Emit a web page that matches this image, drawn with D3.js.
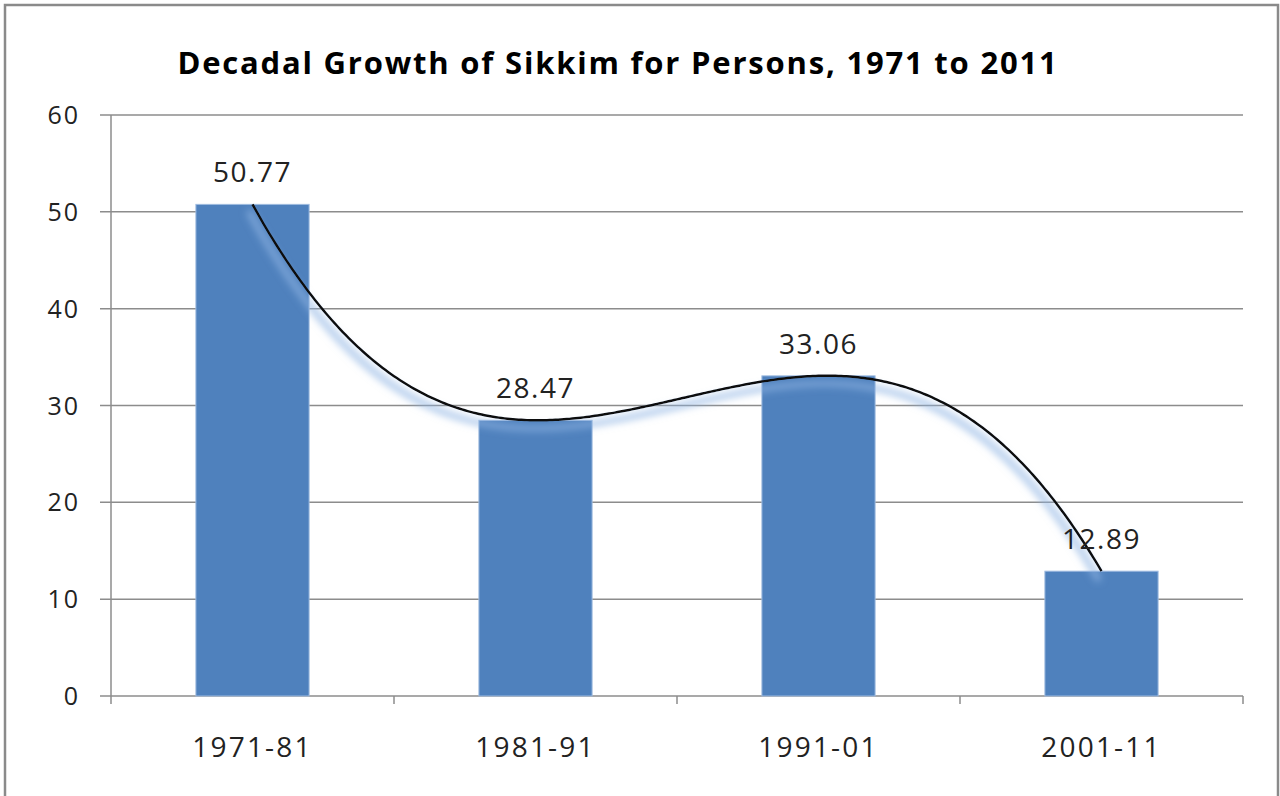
<!DOCTYPE html>
<html>
<head>
<meta charset="utf-8">
<script src="https://cdn.jsdelivr.net/npm/d3@7"></script>
<style>
  body { margin: 0; background: #fff; }
  text { font-family: "Open Sans", sans-serif; fill: #222; }
</style>
</head>
<body>
<div class="chart"></div>
<script>
var width = 1280,
    height = 796;

// data
let periods = ["1971-81", "1981-91", "1991-01", "2001-11"];
let growth = [50.77, 28.47, 33.06, 12.89];
let yTicks = [0, 10, 20, 30, 40, 50, 60];

let svg = d3.select(".chart")
    .append("svg")
    .attr("width", width)
    .attr("height", height);

// frame
svg.append("rect")
    .attr("x", 5)
    .attr("y", 5)
    .attr("width", 1273)
    .attr("height", 800)
    .attr("fill", "#fff")
    .attr("stroke", "#8a8a8a")
    .attr("stroke-width", 2.5);

let plotLeft = 111, plotRight = 1243, plotTop = 115, plotBottom = 696;

let x = d3.scaleBand()
    .domain(periods)
    .range([plotLeft, plotRight])
    .paddingInner(0.6)
    .paddingOuter(0.3);

let y = d3.scaleLinear()
    .domain([0, 60])
    .range([plotBottom, plotTop]);

// gridlines
svg.append("g")
    .selectAll("line")
    .data(yTicks)
    .join("line")
    .attr("x1", plotLeft - 11)
    .attr("x2", plotRight)
    .attr("y1", d => y(d))
    .attr("y2", d => y(d))
    .attr("stroke", "#8c8c8c")
    .attr("stroke-width", 1.5);

// y axis line
svg.append("line")
    .attr("x1", plotLeft).attr("x2", plotLeft)
    .attr("y1", plotTop).attr("y2", plotBottom + 8)
    .attr("stroke", "#8c8c8c")
    .attr("stroke-width", 1.5);

// x ticks at category boundaries
let bounds = d3.range(periods.length + 1).map(i => plotLeft + i * (plotRight - plotLeft) / periods.length);
svg.append("g")
    .selectAll("line")
    .data(bounds.slice(1))
    .join("line")
    .attr("x1", d => d).attr("x2", d => d)
    .attr("y1", plotBottom).attr("y2", plotBottom + 8)
    .attr("stroke", "#8c8c8c")
    .attr("stroke-width", 1.5);

// y labels
svg.append("g")
    .selectAll("text")
    .data(yTicks)
    .join("text")
    .attr("x", 80)
    .attr("y", d => y(d) + 9)
    .attr("text-anchor", "end")
    .style("font-size", "25px")
    .style("letter-spacing", "2px")
    .text(d => d);

// bars
svg.append("g")
    .selectAll("rect")
    .data(growth)
    .join("rect")
    .attr("x", (d, i) => x(periods[i]))
    .attr("y", d => y(d))
    .attr("width", x.bandwidth())
    .attr("height", d => plotBottom - y(d))
    .attr("fill", "#4f81bd")
    .attr("stroke", "#9fbbe0")
    .attr("stroke-width", 1);

// polynomial (order 3) trendline through the points, with glow
let defs = svg.append("defs");
let f = defs.append("filter")
    .attr("id", "glow")
    .attr("x", "-10%").attr("y", "-10%")
    .attr("width", "120%").attr("height", "130%");
f.append("feMorphology").attr("in", "SourceAlpha").attr("operator", "dilate").attr("radius", 2).attr("result", "d");
f.append("feGaussianBlur").attr("in", "d").attr("stdDeviation", 3.5).attr("result", "b");
f.append("feOffset").attr("in", "b").attr("dx", -3).attr("dy", 8).attr("result", "o");
f.append("feFlood").attr("flood-color", "#8fb4e3").attr("flood-opacity", 0.6);
f.append("feComposite").attr("in2", "o").attr("operator", "in").attr("result", "s");
let m = f.append("feMerge");
m.append("feMergeNode").attr("in", "s");
m.append("feMergeNode").attr("in", "SourceGraphic");

// lagrange interpolation = cubic trendline fit for 4 points
function poly(t) {
    let s = 0;
    for (let i = 0; i < growth.length; i++) {
        let p = growth[i];
        for (let j = 0; j < growth.length; j++) {
            if (j !== i) p *= (t - j) / (i - j);
        }
        s += p;
    }
    return s;
}

let cx = d3.scaleLinear()
    .domain([0, periods.length - 1])
    .range([x(periods[0]) + x.bandwidth() / 2, x(periods[periods.length - 1]) + x.bandwidth() / 2]);

let ts = d3.range(0, 3.0001, 0.01);

let line = d3.line()
    .x(t => cx(t))
    .y(t => y(poly(t)));

svg.append("path")
    .datum(ts)
    .attr("d", line)
    .attr("fill", "none")
    .attr("stroke", "#111")
    .attr("stroke-width", 2.5)
    .attr("filter", "url(#glow)");

// value labels
svg.append("g")
    .selectAll("text")
    .data(growth)
    .join("text")
    .attr("x", (d, i) => x(periods[i]) + x.bandwidth() / 2)
    .attr("y", d => y(d) - 22)
    .attr("text-anchor", "middle")
    .style("font-size", "28px")
    .style("letter-spacing", "1.5px")
    .text(d => d.toFixed(2));

// x labels
svg.append("g")
    .selectAll("text")
    .data(periods)
    .join("text")
    .attr("x", d => x(d) + x.bandwidth() / 2)
    .attr("y", 757)
    .attr("text-anchor", "middle")
    .style("font-size", "28px")
    .style("letter-spacing", "2.2px")
    .text(d => d);

// title
svg.append("text")
    .attr("x", 618)
    .attr("y", 74)
    .attr("text-anchor", "middle")
    .style("font-size", "31px")
    .style("font-weight", "bold")
    .style("letter-spacing", "1.8px")
    .style("fill", "#000")
    .text("Decadal Growth of Sikkim for Persons, 1971 to 2011");
</script>
</body>
</html>
